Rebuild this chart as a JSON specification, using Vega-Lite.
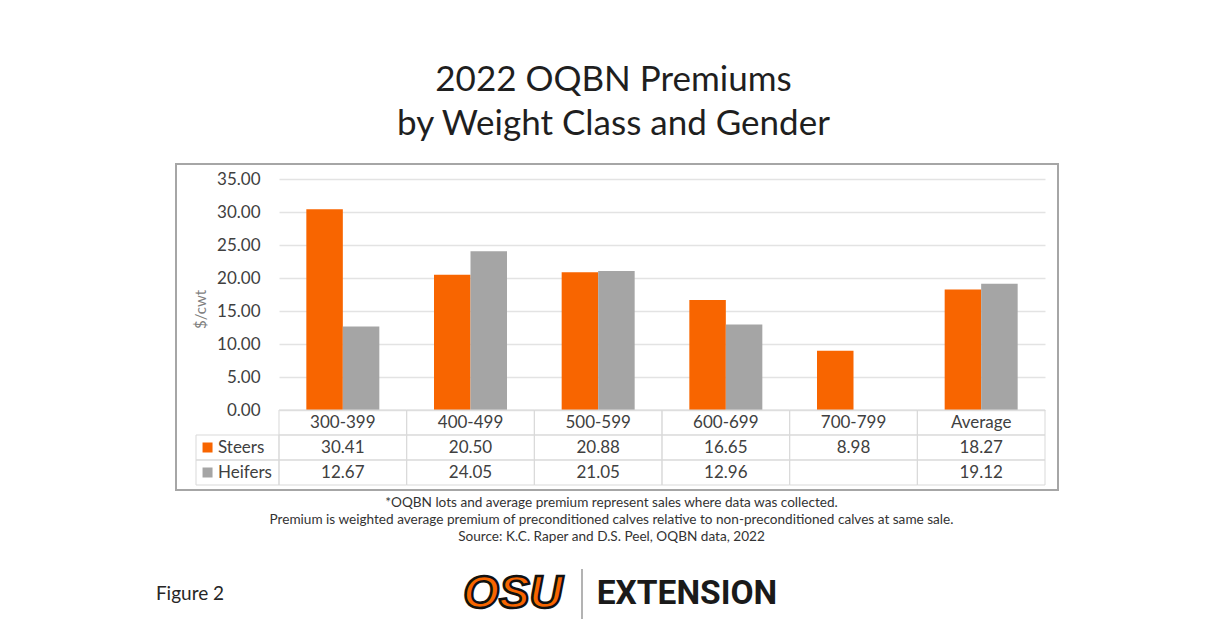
{
  "$schema": "https://vega.github.io/schema/vega-lite/v6.json",
  "background": "white",
  "padding": {"left": 155, "top": 63, "right": 5, "bottom": 5},
  "config": {"view": {"stroke": null}, "font": "Lato", "text": {"font": "Lato"}},
  "title": {
    "text": ["2022 OQBN Premiums", "by Weight Class and Gender"],
    "font": "Lato", "fontSize": 35, "fontWeight": "normal", "color": "#1f1f1f",
    "lineHeight": 44, "anchor": "middle", "offset": 21, "dx": 6
  },
  "datasets": {
    "premiums": [
      {"class": "300-399", "gender": "Steers", "premium": 30.41},
      {"class": "300-399", "gender": "Heifers", "premium": 12.67},
      {"class": "400-499", "gender": "Steers", "premium": 20.50},
      {"class": "400-499", "gender": "Heifers", "premium": 24.05},
      {"class": "500-599", "gender": "Steers", "premium": 20.88},
      {"class": "500-599", "gender": "Heifers", "premium": 21.05},
      {"class": "600-699", "gender": "Steers", "premium": 16.65},
      {"class": "600-699", "gender": "Heifers", "premium": 12.96},
      {"class": "700-799", "gender": "Steers", "premium": 8.98},
      {"class": "700-799", "gender": "Heifers", "premium": null},
      {"class": "Average", "gender": "Steers", "premium": 18.27},
      {"class": "Average", "gender": "Heifers", "premium": 19.12}
    ]
  },
  "spacing": 25,
  "vconcat": [
    {
      "width": 882,
      "height": 326,
      "view": {"stroke": "#a6a6a6", "strokeWidth": 2},
      "data": {"name": "premiums"},
      "resolve": {"scale": {"x": "independent", "y": "independent"}},
      "layer": [
        {
          "transform": [{"filter": "isValid(datum.premium)"}],
          "mark": {"type": "bar"},
          "encoding": {
            "x": {
              "field": "class", "type": "nominal",
              "scale": {"domain": ["300-399", "400-499", "500-599", "600-699", "700-799", "Average"], "range": [103, 869], "paddingInner": 0, "paddingOuter": 0},
              "axis": {
                "labels": false, "ticks": false, "domain": false, "grid": false,
                "title": [
                  "*OQBN lots and average premium represent sales where data was collected.",
                  "Premium is weighted average premium of preconditioned calves relative to non-preconditioned calves at same sale.",
                  "Source: K.C. Raper and D.S. Peel, OQBN data, 2022"
                ],
                "titleFont": "Lato", "titleFontSize": 13.6, "titleFontWeight": "normal", "titleColor": "#333333",
                "titleLineHeight": 17, "titlePadding": 5, "titleX": 435
              }
            },
            "xOffset": {
              "field": "gender", "type": "nominal",
              "scale": {"domain": ["Steers", "Heifers"], "paddingInner": 0, "paddingOuter": 0.749}
            },
            "y": {
              "field": "premium", "type": "quantitative",
              "scale": {"domain": [0, 35], "range": [246, 15], "nice": false, "zero": false},
              "axis": {
                "values": [0, 5, 10, 15, 20, 25, 30, 35], "format": ".2f",
                "offset": -103, "domain": false, "ticks": false, "tickSize": 0,
                "labelPadding": 19, "labelFont": "Lato", "labelFontSize": 17, "labelColor": "#404040",
                "grid": true, "gridColor": "#e3e3e3", "gridWidth": 1.5,
                "title": "$/cwt", "titleFont": "Lato", "titleFontSize": 15, "titleFontWeight": "normal",
                "titleColor": "#808080", "titlePadding": 8, "titleY": 145
              }
            },
            "y2": {"datum": 0},
            "color": {
              "field": "gender", "type": "nominal",
              "scale": {"domain": ["Steers", "Heifers"], "range": ["#F86500", "#A5A5A5"]},
              "legend": null
            }
          }
        },
        {
          "layer": [
            {
              "transform": [{"filter": "datum.gender == 'Steers'"}],
              "mark": {"type": "rect", "fill": "white", "fillOpacity": 0, "stroke": "#d9d9d9", "strokeWidth": 1},
              "encoding": {
                "x": {"field": "class", "type": "nominal", "scale": {"domain": ["300-399", "400-499", "500-599", "600-699", "700-799", "Average"], "range": [103, 869], "paddingInner": 0, "paddingOuter": 0}, "axis": null},
                "y": {"datum": "Weight class", "type": "nominal", "scale": {"domain": ["Weight class", "Steers", "Heifers"], "range": [246, 321], "paddingInner": 0, "paddingOuter": 0}, "axis": null}
              }
            },
            {
              "transform": [{"filter": "datum.gender == 'Steers'"}],
              "mark": {"type": "text", "font": "Lato", "fontSize": 17, "color": "#404040"},
              "encoding": {
                "x": {"field": "class", "type": "nominal", "axis": null},
                "y": {"datum": "Weight class", "type": "nominal", "axis": null},
                "text": {"field": "class", "type": "nominal"}
              }
            },
            {
              "mark": {"type": "rect", "fill": "white", "fillOpacity": 0, "stroke": "#d9d9d9", "strokeWidth": 1},
              "encoding": {
                "x": {"field": "class", "type": "nominal", "axis": null},
                "y": {"field": "gender", "type": "nominal", "axis": null}
              }
            },
            {
              "transform": [{"filter": "isValid(datum.premium)"}],
              "mark": {"type": "text", "font": "Lato", "fontSize": 17, "color": "#404040"},
              "encoding": {
                "x": {"field": "class", "type": "nominal", "axis": null},
                "y": {"field": "gender", "type": "nominal", "axis": null},
                "text": {"field": "premium", "type": "quantitative", "format": ".2f"}
              }
            }
          ]
        },
        {
          "transform": [{"filter": "datum.class == '300-399'"}],
          "layer": [
            {
              "mark": {"type": "rect", "fill": "white", "fillOpacity": 0, "stroke": "#d9d9d9", "strokeWidth": 1},
              "encoding": {
                "x": {"datum": "Legend", "type": "nominal", "scale": {"domain": ["Legend"], "range": [20, 103], "paddingInner": 0, "paddingOuter": 0}, "axis": null},
                "y": {"field": "gender", "type": "nominal", "scale": {"domain": ["Weight class", "Steers", "Heifers"], "range": [246, 321], "paddingInner": 0, "paddingOuter": 0}, "axis": null}
              }
            },
            {
              "mark": {"type": "point", "shape": "square", "filled": true, "size": 100, "opacity": 1},
              "encoding": {
                "x": {"datum": "Legend", "type": "nominal", "bandPosition": 0.139, "axis": null},
                "y": {"field": "gender", "type": "nominal", "axis": null},
                "color": {"field": "gender", "type": "nominal", "legend": null}
              }
            },
            {
              "mark": {"type": "text", "font": "Lato", "fontSize": 17, "color": "#404040", "align": "left"},
              "encoding": {
                "x": {"datum": "Legend", "type": "nominal", "bandPosition": 0.265, "axis": null},
                "y": {"field": "gender", "type": "nominal", "axis": null},
                "text": {"field": "gender", "type": "nominal"}
              }
            }
          ]
        }
      ]
    },
    {
      "spacing": 233,
      "hconcat": [
        {
          "width": 28, "height": 50,
          "data": {"values": [{"label": "Figure 2"}]},
          "mark": {"type": "text", "font": "Lato", "fontSize": 19, "color": "#262626"},
          "encoding": {"text": {"field": "label", "type": "nominal"}}
        },
        {
          "spacing": 13,
          "hconcat": [
            {
              "width": 110, "height": 50,
              "data": {"values": [{"label": "OSU"}]},
              "mark": {"type": "text", "font": "Liberation Sans", "fontWeight": "bold", "fontStyle": "italic", "fontSize": 46, "fill": "#F86500", "stroke": "#111111", "strokeWidth": 2.5},
              "encoding": {"text": {"field": "label", "type": "nominal"}}
            },
            {
              "width": 2, "height": 50,
              "data": {"values": [{"label": "divider"}]},
              "mark": {"type": "rect", "color": "#b3b3b3"},
              "encoding": {}
            },
            {
              "width": 178, "height": 50,
              "data": {"values": [{"label": "EXTENSION"}]},
              "mark": {"type": "text", "font": "Roboto", "fontWeight": "bold", "fontSize": 33.5, "color": "#1a1a1a"},
              "encoding": {"text": {"field": "label", "type": "nominal"}}
            }
          ]
        }
      ]
    }
  ]
}
